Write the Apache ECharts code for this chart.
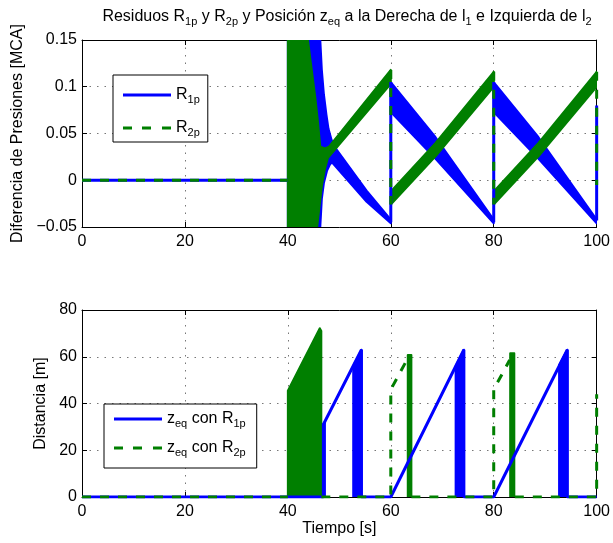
<!DOCTYPE html>
<html>
<head>
<meta charset="utf-8">
<script src="https://cdn.jsdelivr.net/npm/echarts@6/dist/echarts.min.js"></script>
<style>
  html, body { margin: 0; padding: 0; background: #ffffff; }
  #chart { width: 613px; height: 543px; }
</style>
</head>
<body>
<div id="chart"></div>
<script>
// Ticks de los ejes
const tiempoTicks = [0, 20, 40, 60, 80, 100];
const presionTicks = [-0.05, 0, 0.05, 0.1, 0.15];
const presionEtiquetas = ['\u22120.05', '0', '0.05', '0.1', '0.15'];
const distanciaTicks = [0, 20, 40, 60, 80];

// ---- Residuos (MCA) frente al tiempo (s) ----
// R1p: tramo en reposo y saltos en los cambios de ciclo
const r1pTrazo = [[0, 0], [40, 0], [40, '-'],
  [60, -0.045], [60, 0.105], [60, '-'],
  [80, -0.045], [80, 0.105], [80, '-'],
  [100, -0.043], [100, 0.08]];
// R1p: envolventes (superior / inferior) de la oscilación rápida
const r1pBandas = [
  { sup: [[40, 0.15], [46.3, 0.15], [46.6, 0.118], [47.0, 0.092], [47.5, 0.07], [47.9, 0.055], [48.5, 0.043], [49.2, 0.035], [55.3, -0.011], [60, -0.042]],
    inf: [[40, -0.05], [46.3, -0.05], [46.6, -0.02], [47.0, -0.003], [47.6, 0.010], [48.2, 0.017], [48.6, 0.019], [55.3, -0.023], [60, -0.046]] },
  { sup: [[60, 0.105], [68.7, 0.046], [80, -0.042]],
    inf: [[60, 0.073], [68.7, 0.023], [80, -0.046]] },
  { sup: [[80, 0.105], [88.7, 0.046], [100, -0.042]],
    inf: [[80, 0.073], [88.7, 0.023], [100, -0.046]] }
];
// R2p
const r2pTrazo = [[0, 0], [40, 0], [40, '-'],
  [60, 0.118], [60, -0.026], [60, '-'],
  [80, 0.116], [80, -0.026], [80, '-'],
  [100, 0.116], [100, -0.005]];
const r2pBandas = [
  { sup: [[40, 0.15], [43.9, 0.15], [44.6, 0.12], [45.3, 0.09], [45.8, 0.065], [46.3, 0.036], [47.2, 0.034], [48.0, 0.036], [60, 0.118]],
    inf: [[40, -0.05], [45.7, -0.05], [46.6, -0.006], [47.2, 0.012], [47.8, 0.024], [60, 0.103]] },
  { sup: [[60, -0.012], [68.7, 0.040], [80, 0.116]],
    inf: [[60, -0.026], [68.7, 0.0255], [80, 0.100]] },
  { sup: [[80, -0.012], [88.7, 0.040], [100, 0.116]],
    inf: [[80, -0.026], [88.7, 0.0255], [100, 0.100]] }
];

// ---- Posición z_eq (m) frente al tiempo (s) ----
const zeq1Trazo = [[0, 0], [46.9, 0], [46.9, 31], [54.3, 63], [54.3, 0],
  [60, 0], [74.2, 63], [74.2, 0],
  [80, 0], [94.3, 63], [94.3, 0], [100, 0]];
const zeq1Bandas = [
  { sup: [[46.6, 30.5], [47.2, 32]], inf: [[46.6, 0], [47.2, 0]] },
  { sup: [[52.7, 56], [54.3, 63]], inf: [[52.7, 0], [54.3, 0]] },
  { sup: [[72.6, 56], [74.2, 63]], inf: [[72.6, 0], [74.2, 0]] },
  { sup: [[92.7, 56.5], [94.3, 63]], inf: [[92.7, 0], [94.3, 0]] }
];
const zeq2Trazo = [[0, 0], [40, 0], [40, '-'], [46.5, 0],
  [60, 0], [60, 46], [63.1, 58.5], [63.5, '-'], [64.0, 0],
  [80, 0], [80, 46], [83.1, 58.6], [83.5, '-'], [84.1, 0],
  [100, 0], [100, 44]];
const zeq2Bandas = [
  { sup: [[40, 45.5], [46.2, 72.2], [46.5, 71]], inf: [[40, 0], [46.5, 0]] },
  { sup: [[63.3, 60.8], [64.0, 60.8]], inf: [[63.3, 0], [64.0, 0]] },
  { sup: [[83.2, 61.5], [84.0, 61.5]], inf: [[83.2, 0], [84.0, 0]] }
];

// ---- estilo ----
const FUENTE = '"Liberation Sans", Arial, Helvetica, sans-serif';
const AZUL = '#0000ff';
const VERDE = '#007f00';
const TAM = 16;
const richSub = {
  m: { fontSize: TAM, fontFamily: FUENTE, fontWeight: 'normal', color: '#000', lineHeight: 20 },
  s: { fontSize: 11, fontFamily: FUENTE, fontWeight: 'normal', color: '#000', lineHeight: 11, verticalAlign: 'bottom' }
};
const etiquetasLeyenda = {
  'R1p': '{m|R}{s|1p}',
  'R2p': '{m|R}{s|2p}',
  'zeq con R1p': '{m|z}{s|eq}{m| con R}{s|1p}',
  'zeq con R2p': '{m|z}{s|eq}{m| con R}{s|2p}'
};
// muestras de línea de la leyenda: continua y discontinua
const iconoContinua = 'path://M0,0h48v3h-48z';
const iconoDiscontinua = 'path://M0,0h9v3h-9z M19,0h9v3h-9z M39,0h9v3h-9z';

function trazo(nombre, datos, color, discontinua, xi, yi) {
  return {
    type: 'line', name: nombre, data: datos, xAxisIndex: xi, yAxisIndex: yi,
    symbol: 'none', showSymbol: false, clip: true, silent: true, connectNulls: false,
    lineStyle: { color: color, width: 3, type: discontinua ? [9, 9] : 'solid', cap: 'butt' },
    itemStyle: { color: color }
  };
}

function bandas(nombre, lista, color, xi, yi) {
  return {
    type: 'custom', name: nombre, xAxisIndex: xi, yAxisIndex: yi, clip: true, silent: true,
    data: lista.map(b => [b.sup[0][0], b.sup[0][1]]),
    renderItem: (params, api) => {
      const b = lista[params.dataIndex];
      const pts = b.sup.map(p => api.coord(p))
        .concat(b.inf.slice().reverse().map(p => api.coord(p)));
      return {
        type: 'polygon', shape: { points: pts },
        style: { fill: color, stroke: color, lineWidth: 2, lineJoin: 'round' }
      };
    }
  };
}

function ejeX(grid, pos, conEtiquetas, nombre) {
  return {
    type: 'value', gridIndex: grid, position: pos, min: tiempoTicks[0], max: tiempoTicks[tiempoTicks.length - 1],
    interval: tiempoTicks[1] - tiempoTicks[0],
    name: nombre || '', nameLocation: 'middle', nameGap: 22,
    nameTextStyle: { fontSize: TAM, fontFamily: FUENTE, color: '#000' },
    axisLine: { show: true, onZero: false, lineStyle: { color: '#000', width: 1 } },
    axisTick: { show: true, inside: true, length: 5, lineStyle: { color: '#000' } },
    axisLabel: { show: conEtiquetas, margin: 7, fontSize: TAM, fontFamily: FUENTE, color: '#000' },
    splitLine: { show: conEtiquetas, lineStyle: { color: '#777', width: 1, type: [1.5, 6] } }
  };
}

function ejeY(grid, pos, ticks, conEtiquetas, nombre, hueco, fmt) {
  return {
    type: 'value', gridIndex: grid, position: pos, min: ticks[0], max: ticks[ticks.length - 1],
    interval: ticks[1] - ticks[0],
    name: nombre || '', nameLocation: 'middle', nameGap: hueco || 0,
    nameTextStyle: { fontSize: TAM, fontFamily: FUENTE, color: '#000' },
    axisLine: { show: true, onZero: false, lineStyle: { color: '#000', width: 1 } },
    axisTick: { show: true, inside: true, length: 5, lineStyle: { color: '#000' } },
    axisLabel: { show: conEtiquetas, margin: 5, fontSize: TAM, fontFamily: FUENTE, color: '#000', formatter: fmt },
    splitLine: { show: conEtiquetas, lineStyle: { color: '#777', width: 1, type: [1.5, 6] } }
  };
}

function leyenda(nombres, izq, arriba, pad, hueco) {
  return {
    data: [
      { name: nombres[0], icon: iconoContinua },
      { name: nombres[1], icon: iconoDiscontinua }
    ],
    orient: 'vertical', left: izq, top: arriba, padding: pad, itemGap: hueco,
    itemWidth: 48, itemHeight: 3, symbolKeepAspect: true, selectedMode: false,
    backgroundColor: '#fff', borderColor: '#000', borderWidth: 1, borderRadius: 0,
    itemStyle: { borderWidth: 0 },
    formatter: n => etiquetasLeyenda[n],
    textStyle: { rich: richSub }
  };
}

const chart = echarts.init(document.getElementById('chart'), null, { renderer: 'canvas' });
chart.setOption({
  animation: false,
  backgroundColor: '#ffffff',
  title: {
    text: '{m|Residuos R}{s|1p}{m| y R}{s|2p}{m| y Posición z}{s|eq}{m| a la Derecha de l}{s|1}{m| e Izquierda de l}{s|2}',
    left: 342, top: 2, textAlign: 'center',
    textStyle: { fontWeight: 'normal', rich: richSub }
  },
  legend: [
    leyenda(['R1p', 'R2p'], 113, 75, [12, 8, 4, 10], 15),
    leyenda(['zeq con R1p', 'zeq con R2p'], 104, 404, [7, 11, 10, 10], 11)
  ],
  grid: [
    { left: 82, top: 40, width: 521, height: 187, containLabel: false },
    { left: 82, top: 310, width: 521, height: 187, containLabel: false }
  ],
  xAxis: [
    ejeX(0, 'bottom', true),
    ejeX(0, 'top', false),
    ejeX(1, 'bottom', true, 'Tiempo [s]'),
    ejeX(1, 'top', false)
  ],
  yAxis: [
    ejeY(0, 'left', presionTicks, true, 'Diferencia de Presiones [MCA]', 45,
      v => presionEtiquetas[presionTicks.findIndex(t => Math.abs(t - v) < 1e-9)]),
    ejeY(0, 'right', presionTicks, false),
    ejeY(1, 'left', distanciaTicks, true, 'Distancia [m]', 22),
    ejeY(1, 'right', distanciaTicks, false)
  ],
  series: [
    bandas('R1p oscilación', r1pBandas, AZUL, 0, 0),
    trazo('R1p', r1pTrazo, AZUL, false, 0, 0),
    bandas('R2p oscilación', r2pBandas, VERDE, 0, 0),
    trazo('R2p', r2pTrazo, VERDE, true, 0, 0),
    bandas('zeq con R1p oscilación', zeq1Bandas, AZUL, 2, 2),
    trazo('zeq con R1p', zeq1Trazo, AZUL, false, 2, 2),
    bandas('zeq con R2p oscilación', zeq2Bandas, VERDE, 2, 2),
    trazo('zeq con R2p', zeq2Trazo, VERDE, true, 2, 2)
  ]
});
</script>
</body>
</html>
